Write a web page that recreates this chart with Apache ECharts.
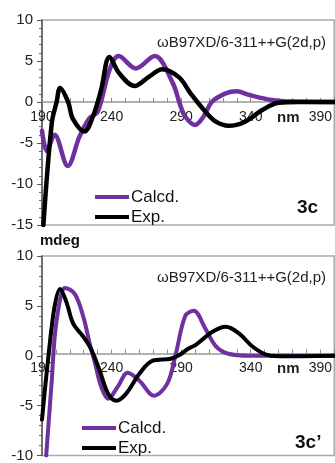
<!DOCTYPE html>
<html>
<head>
<meta charset="utf-8">
<script src="https://cdn.jsdelivr.net/npm/echarts@6/dist/echarts.min.js"></script>
<style>
  html, body { margin: 0; padding: 0; background: #fff; }
  #chart { width: 335px; height: 463px; }
</style>
</head>
<body>
<div id="chart"></div>
<script>
// wavelength (nm), CD (mdeg)
const calcdC = [
  [190, -3.5], [193.5, -6.0], [199, -4.0], [208.5, -7.8], [217, -4.2], [224, -2.0],
  [230, -1.2], [238.5, 3.9], [245, 5.6], [257.5, 4.1], [271, 5.6], [284, 2.3],
  [289, -0.2], [293, -1.8], [300, -2.8], [306, -1.8], [312, 0], [322, 1.05],
  [330, 1.3], [339, 0.85], [355, 0.25], [370, 0.05], [400, 0]
];
const expC = [
  [191, -15], [197, -2.6], [200.5, 0], [203, 1.7], [209, -0.1], [212, -2.0],
  [220.5, -3.6], [226.5, -1.8], [232.5, 1.5], [238.5, 5.5], [245.5, 3.5], [256.5, 1.95],
  [267, 3.1], [276.5, 4.0], [288.5, 3.0], [297, 1.0], [307.5, -1.2], [315, -2.4],
  [324, -2.9], [336, -2.4], [348, -1.0], [360, -0.1], [375, 0], [400, 0]
];
const calcdCp = [
  [193, -10], [197, -2.5], [199.5, 2.4], [204, 6.3], [206.5, 6.8], [213.5, 6.2],
  [219.5, 4.0], [224.5, 1.1], [228, -0.7], [232.5, -3.1], [237.5, -4.3], [244.5, -3.1],
  [251.5, -1.7], [260, -2.5], [270.5, -4.0], [280, -2.8], [286, 0.1], [293, 4.0],
  [299, 4.5], [307.5, 2.7], [315, 0.95], [324, 0.2], [340, 0], [400, 0]
];
const expCp = [
  [190, -6.4], [194.5, -0.2], [199, 4.9], [203, 6.7], [207.5, 5.4], [212.5, 3.2],
  [219.5, 1.95], [225.5, 0.6], [231.5, -1.5], [237.5, -3.8], [243.5, -4.5], [250.5, -3.8],
  [260, -1.8], [269.5, -0.5], [282.5, -0.3], [289, 0.1], [295, 0.7], [300.5, 1.1],
  [312.5, 2.4], [322, 2.9], [331.5, 2.25], [341, 0.95], [350.5, 0.15], [360, -0.05], [400, 0]
];
const xTickLabels = [190, 240, 290, 340, 390];
const xMinorTicks = [190, 200, 210, 220, 230, 240, 250, 260, 270, 280, 290, 300, 310, 320, 330, 340, 350, 360, 370, 380, 390, 400];
const unitAt = 367; // where "nm" sits on the axis
const seriesNames = ["Calcd.", "Exp."];
const methodText = "ωB97XD/6-311++G(2d,p)";
const panelLabels = ["3c", "3c\u2019"];

const font = "Liberation Sans, Arial, sans-serif";
const purple = "#7030a0";

const grids = [
  { top: 20, height: 205, yMin: -15 },
  { top: 256, height: 204, yMin: -10 }
];
const yMax = 10;

const chart = echarts.init(document.getElementById("chart"));

// x axis drawn through y = 0 (shifted up from the grid bottom)
function xAxis(i) {
  const g = grids[i];
  return {
    type: "value", gridIndex: i, min: 190, max: 400,
    position: "bottom",
    offset: -g.height * (0 - g.yMin) / (yMax - g.yMin),
    axisLine: { onZero: false, lineStyle: { color: "#999", width: 1.5 } },
    axisTick: { show: true, inside: true, length: 4, customValues: xMinorTicks, lineStyle: { color: "#888" } },
    axisLabel: {
      customValues: xTickLabels.concat([unitAt]),
      margin: 8, fontSize: 14, color: "#222", fontFamily: font,
      formatter: (v) => (v === unitAt ? "{u|nm}" : String(v)),
      rich: { u: { fontSize: 15, fontWeight: "bold", color: "#222", fontFamily: font } }
    },
    splitLine: { show: false }
  };
}

function yAxis(i) {
  return {
    type: "value", gridIndex: i, min: grids[i].yMin, max: yMax, interval: 5,
    axisLine: { show: true, onZero: false, lineStyle: { color: "#555", width: 1.5 } },
    axisTick: { show: true, length: 5, lineStyle: { color: "#555" } },
    minorTick: { show: true, splitNumber: 5, length: 3, lineStyle: { color: "#666" } },
    axisLabel: { margin: 9, fontSize: 15, color: "#222", fontFamily: font },
    splitLine: { show: false }
  };
}

function line(name, data, i, color, width) {
  return {
    name, type: "line", data, xAxisIndex: i, yAxisIndex: i,
    smooth: 0.35, showSymbol: false, symbol: "none",
    lineStyle: { color, width, cap: "round", join: "round" },
    itemStyle: { color }
  };
}

const legendBase = {
  orient: "vertical", icon: "rect", itemWidth: 34, itemHeight: 4, itemGap: 2,
  selectedMode: false, data: seriesNames,
  textStyle: { fontSize: 17, lineHeight: 18, color: "#111", fontFamily: font, padding: [0, 0, 0, -3] }
};

chart.setOption({
  animation: false,
  backgroundColor: "#fff",
  grid: grids.map((g) => ({
    left: 42, right: 0, top: g.top, height: g.height,
    show: true, borderColor: "#aaa", borderWidth: 1.5, backgroundColor: "transparent"
  })),
  xAxis: [xAxis(0), xAxis(1)],
  yAxis: [yAxis(0), yAxis(1)],
  legend: [
    Object.assign({ left: 90, top: 183 }, legendBase),
    Object.assign({ left: 77, top: 414 }, legendBase)
  ],
  graphic: [
    { type: "text", right: 9, top: 35, style: { text: methodText, font: "15px " + font, fill: "#222" } },
    { type: "text", right: 9, top: 270, style: { text: methodText, font: "15px " + font, fill: "#222" } },
    { type: "text", left: 297, top: 198, style: { text: panelLabels[0], font: "bold 19px " + font, fill: "#111" } },
    { type: "text", left: 295, top: 433, style: { text: panelLabels[1], font: "bold 19px " + font, fill: "#111" } },
    { type: "text", left: 40, top: 233, style: { text: "mdeg", font: "bold 15px " + font, fill: "#111" } }
  ],
  series: [
    line(seriesNames[0], calcdC, 0, purple, 4.5),
    line(seriesNames[1], expC, 0, "#000", 4.5),
    line(seriesNames[0], calcdCp, 1, purple, 4),
    line(seriesNames[1], expCp, 1, "#000", 4)
  ]
});
</script>
</body>
</html>
